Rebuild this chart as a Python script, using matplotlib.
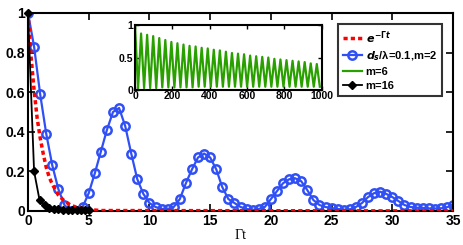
import numpy as np
import matplotlib
matplotlib.use("Agg")
import matplotlib.pyplot as plt

# ---- data ----
# red dotted curve, e^{-Gamma t}
red_t = [0, 0.25, 0.5, 0.75, 1, 1.25, 1.5, 1.75, 2, 2.5, 3, 3.5, 4, 5, 6, 35]
red_y = [1, 0.78, 0.61, 0.47, 0.37, 0.29, 0.22, 0.17, 0.135, 0.08, 0.05, 0.03,
         0.018, 0.007, 0.002, 0.0]

# blue circles, d_s/lambda=0.1, m=2 (one point every 0.5)
blue_t = np.arange(0, 35.5, 0.5)
blue_y = [1.0, 0.83, 0.59, 0.39, 0.23, 0.11, 0.03, 0.0, 0.0, 0.02,
          0.09, 0.19, 0.30, 0.41, 0.50, 0.52, 0.43, 0.29, 0.16, 0.086,
          0.04, 0.02, 0.01, 0.01, 0.02, 0.06, 0.14, 0.21, 0.27, 0.29,
          0.27, 0.21, 0.12, 0.06, 0.04, 0.02, 0.01, 0.005, 0.01, 0.02,
          0.06, 0.10, 0.14, 0.16, 0.165, 0.15, 0.105, 0.055, 0.03, 0.02,
          0.014, 0.01, 0.006, 0.008, 0.02, 0.04, 0.07, 0.09, 0.097, 0.086,
          0.07, 0.05, 0.03, 0.02, 0.016, 0.015, 0.013, 0.012, 0.013, 0.019,
          0.03]

# black diamonds, m=16
black_t = [0, 0.5, 0.95, 1.4, 1.75, 2.1, 2.5, 2.9, 3.3, 3.65, 4.0, 4.4, 4.7, 5.0]
black_y = [1, 0.2, 0.055, 0.03, 0.015, 0.01, 0.008, 0.005, 0.005, 0.004,
           0.004, 0.003, 0.003, 0.003]

# green inset, m=6: start value, then alternating troughs / peaks
green_start = 1.0
green_peaks = [0.87, 0.85, 0.83, 0.80, 0.77, 0.74, 0.72, 0.70, 0.68, 0.67,
               0.65, 0.64, 0.62, 0.61, 0.59, 0.57, 0.56, 0.55, 0.53, 0.52,
               0.51, 0.50, 0.48, 0.47, 0.46, 0.45, 0.44, 0.43, 0.41, 0.40]
green_troughs = [0.02, 0.03, 0.03, 0.03, 0.04, 0.04, 0.04, 0.04, 0.04, 0.04,
                 0.05, 0.05, 0.05, 0.05, 0.05, 0.05, 0.05, 0.05, 0.05, 0.05,
                 0.05, 0.05, 0.05, 0.05, 0.05, 0.05, 0.05, 0.05, 0.05, 0.05,
                 0.05]

green_y = np.empty(1 + len(green_peaks) + len(green_troughs))
green_y[0] = green_start
green_y[1::2] = green_troughs
green_y[2::2] = green_peaks
green_t = np.linspace(0, 990, len(green_y))

blue = "#3050f5"
green = "#2aa000"

plt.rcParams["font.family"] = ["Liberation Sans", "DejaVu Sans"]
plt.rcParams["font.weight"] = "bold"

fig = plt.figure(figsize=(4.63, 2.45), dpi=100)
ax = fig.add_axes([0.0605, 0.139, 0.918, 0.808])

l_red, = ax.plot(red_t, red_y, color="red", lw=2.5, linestyle=(0, (1.2, 0.9)),
                 zorder=3, label=r"$e^{-\Gamma t}$")
l_blue, = ax.plot(blue_t, blue_y, color=blue, lw=1.6, marker="o", ms=6,
                  mfc="none", mec=blue, mew=1.8, zorder=2,
                  label=r"$d_s$/λ=0.1,m=2")
l_black, = ax.plot(black_t, black_y, color="black", lw=1.3, marker="D", ms=4.5,
                   mfc="black", mec="black", zorder=4, clip_on=False, label="m=16")

ax.set_xlim(0, 35)
ax.set_ylim(0, 1)
ax.set_xticks(range(0, 36, 5))
ax.set_yticks([0, 0.2, 0.4, 0.6, 0.8, 1])
ax.set_yticklabels(["0", "0.2", "0.4", "0.6", "0.8", "1"])
ax.tick_params(direction="in", top=True, right=True, length=5, width=1.2,
               labelsize=10, pad=2)
for s in ax.spines.values():
    s.set_linewidth(1.5)
ax.set_xlabel("Γt", family="Liberation Serif", fontweight="normal",
              fontsize=10, va="center")
ax.xaxis.set_label_coords(0.5, -0.126)

# inset
axi = fig.add_axes([0.2916, 0.6327, 0.4032, 0.265])
l_green, = axi.plot(green_t, green_y, color=green, lw=1.6, label="m=6")
axi.set_xlim(0, 1000)
axi.set_ylim(0, 1)
axi.set_xticks(range(0, 1001, 200))
axi.set_yticks([0, 0.5, 1])
axi.set_yticklabels(["0", "0.5", "1"])
axi.tick_params(direction="in", top=True, right=True, length=3, width=1,
                labelsize=7.5, pad=1)
for s in axi.spines.values():
    s.set_linewidth(1.5)

leg = ax.legend(handles=[l_red, l_blue, l_green, l_black], loc="upper right",
                bbox_to_anchor=(0.974, 0.944), fontsize=8, frameon=True,
                fancybox=False, edgecolor="black", handlelength=1.7,
                handletextpad=0.35, borderpad=0.45, borderaxespad=0,
                labelspacing=0.35)
leg.get_frame().set_linewidth(1.5)

fig.savefig("out.png", dpi=100)
